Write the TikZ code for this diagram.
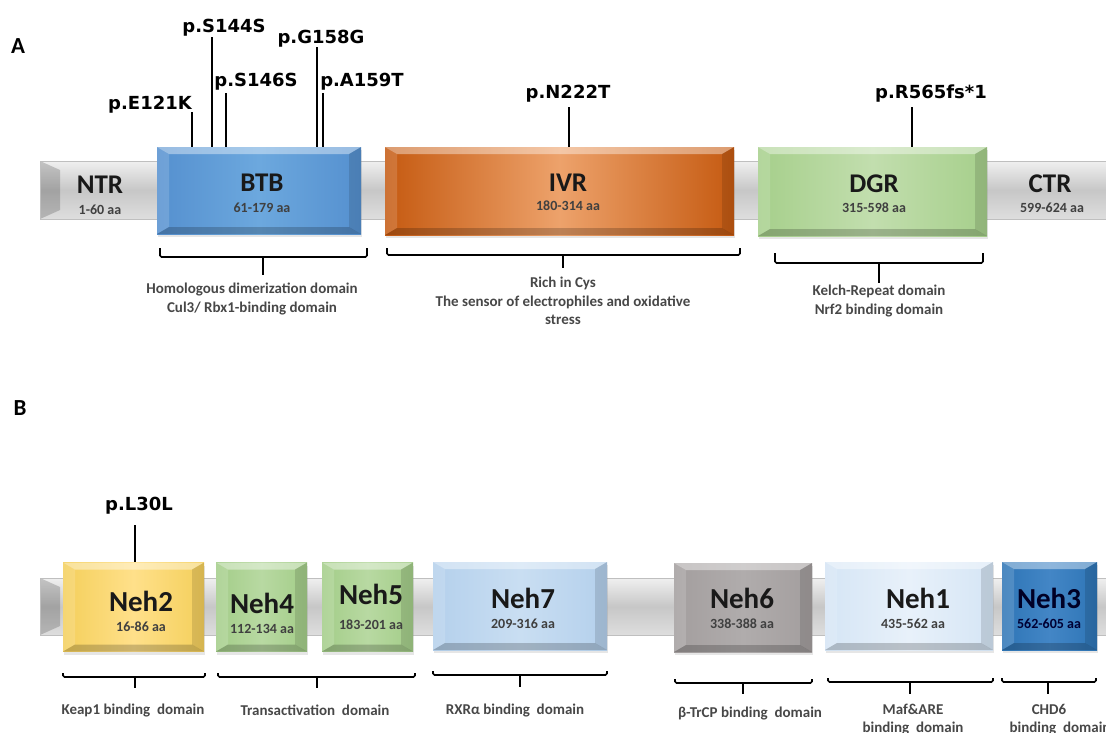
\documentclass[tikz,border=0pt]{standalone}
\usepackage{fontspec}
\setmainfont{Carlito}
\newfontfamily\mutfont{DejaVu Sans}
\usepackage{tikz}
\usetikzlibrary{positioning,shadows}

\definecolor{btbE}{HTML}{5590CF}\definecolor{btbM}{HTML}{6CA8DE}
\definecolor{ivrE}{HTML}{C55A11}\definecolor{ivrM}{HTML}{EDA26B}
\definecolor{dgrE}{HTML}{A6CF8B}\definecolor{dgrM}{HTML}{C2DEAE}
\definecolor{nehyE}{HTML}{F4CF5B}\definecolor{nehyM}{HTML}{FFE08A}
\definecolor{nehgE}{HTML}{A3CD88}\definecolor{nehgM}{HTML}{B8D9A2}
\definecolor{nehlE}{HTML}{B4D0EC}\definecolor{nehlM}{HTML}{C9DEF2}
\definecolor{nehdE}{HTML}{A39E9E}\definecolor{nehdM}{HTML}{B0ACAC}
\definecolor{nehpE}{HTML}{D5E5F5}\definecolor{nehpM}{HTML}{E8F1FA}
\definecolor{nehbE}{HTML}{2E75B6}\definecolor{nehbM}{HTML}{4386C6}

\tikzset{
	bevel/.style={rectangle, inner sep=0pt,
		drop shadow={opacity=0.2, shadow xshift=1pt, shadow yshift=-3pt},
		path picture={
			\fill[white, opacity=0.4] (path picture bounding box.north west) -- (path picture bounding box.north east) -- ([shift={(-12pt,-7pt)}]path picture bounding box.north east) -- ([shift={(12pt,-7pt)}]path picture bounding box.north west) -- cycle;
			\fill[white, opacity=0.15] (path picture bounding box.north west) -- ([shift={(12pt,-7pt)}]path picture bounding box.north west) -- ([shift={(12pt,7pt)}]path picture bounding box.south west) -- (path picture bounding box.south west) -- cycle;
			\fill[black, opacity=0.12] (path picture bounding box.north east) -- ([shift={(-12pt,-7pt)}]path picture bounding box.north east) -- ([shift={(-12pt,7pt)}]path picture bounding box.south east) -- (path picture bounding box.south east) -- cycle;
			\fill[black, opacity=0.2] (path picture bounding box.south west) -- ([shift={(12pt,7pt)}]path picture bounding box.south west) -- ([shift={(-12pt,7pt)}]path picture bounding box.south east) -- (path picture bounding box.south east) -- cycle;
		}},
	backbone/.style={rectangle, inner sep=0pt, draw=black!25, line width=0.6pt, top color=black!6, bottom color=black!13, middle color=black!22,
		path picture={
			\fill[black, opacity=0.18] (path picture bounding box.north west) -- ([shift={(20pt,-9pt)}]path picture bounding box.north west) -- ([shift={(20pt,9pt)}]path picture bounding box.south west) -- (path picture bounding box.south west) -- cycle;
		}},
	dname/.style={font=\fontsize{27}{30}\selectfont\bfseries, text=black!90, anchor=base, inner sep=0pt},
	nname/.style={font=\fontsize{29}{32}\selectfont\bfseries, text=black!90, anchor=base, inner sep=0pt},
	aa/.style={font=\fontsize{14}{16}\selectfont\bfseries, text=black!75, anchor=base, inner sep=0pt},
	mut/.style={font=\mutfont\fontsize{18}{20}\selectfont\bfseries, anchor=base, inner sep=0pt},
	mline/.style={line width=1.6pt},
	brk/.style={line width=1.6pt, rounded corners=1.5pt},
	btext/.style={font=\fontsize{15}{18.5}\selectfont\bfseries, text=black!72, align=center, inner sep=0pt},
	panel/.style={font=\fontsize{23}{26}\selectfont\bfseries, anchor=base, inner sep=0pt},
}

\begin{document}
\begin{tikzpicture}[x=1pt, y=-1pt]
	\useasboundingbox (0,0) rectangle (1106,732);
	\clip (0,0) rectangle (1106,732);
	% panel A
	\node[panel] (panA) at (18,53) {A};
	\node[backbone, minimum width=1110pt, minimum height=58pt] at (595,190)(barA){};
	\node[bevel, minimum width=204pt, minimum height=87pt, left color=btbE, right color=btbE, middle color=btbM] at (259,190.5)(btb){};
	\node[bevel, minimum width=349pt, minimum height=88pt, left color=ivrE, right color=ivrE, middle color=ivrM] at (559.5,191)(ivr){};
	\node[bevel, minimum width=229pt, minimum height=89pt, left color=dgrE, right color=dgrE, middle color=dgrM] at (872.5,191.5)(dgr){};
	\node[dname] at (100,193)(ntr){NTR};
	\node[aa] at (100,214)(ntraa){1-60 aa};
	\node[dname] at (262,191)(btbname){BTB};
	\node[aa] at (262,212)(btbaa){61-179 aa};
	\node[dname] at (568,191)(ivrname){IVR};
	\node[aa] at (568,210)(ivraa){180-314 aa};
	\node[dname] at (874,192)(dgrname){DGR};
	\node[aa] at (874,212)(dgraa){315-598 aa};
	\node[dname] at (1050,192)(ctr){CTR};
	\node[aa] at (1052,212)(ctraa){599-624 aa};
	% mutations on Keap1
	\node[mut] at (150,109)(mE121K){p.E121K};
	\node[mut] at (224,32)(mS144S){p.S144S};
	\node[mut] at (256,86)(mS146S){p.S146S};
	\node[mut] at (321,43)(mG158G){p.G158G};
	\node[mut] at (362,86)(mA159T){p.A159T};
	\node[mut] at (568,98)(mN222T){p.N222T};
	\node[mut] at (931,98)(mR565){p.R565fs*1};
	\coordinate (tE121K) at (192,112);
	\coordinate (tS144S) at (212,37);
	\coordinate (tS146S) at (226,93);
	\coordinate (tG158G) at (317,47);
	\coordinate (tA159T) at (323,93);
	\coordinate (tN222T) at (569,107);
	\coordinate (tR565) at (912,107);
	\draw[mline] (tE121K) -- (tE121K |- btb.north);
	\draw[mline] (tS144S) -- (tS144S |- btb.north);
	\draw[mline] (tS146S) -- (tS146S |- btb.north);
	\draw[mline] (tG158G) -- (tG158G |- btb.north);
	\draw[mline] (tA159T) -- (tA159T |- btb.north);
	\draw[mline] (tN222T) -- (tN222T |- ivr.north);
	\draw[mline] (tR565) -- (tR565 |- dgr.north);
	% brackets A
	\node[btext] at (252,299)(btbtext){Homologous dimerization domain\\Cul3/ Rbx1-binding domain};
	\node[btext] at (563,301)(ivrtext){Rich in Cys\\The sensor of electrophiles and oxidative\\stress};
	\node[btext] at (879,301)(dgrtext){Kelch-Repeat domain\\Nrf2 binding domain};
	\coordinate (kbtb) at (263,257);
	\coordinate (kivr) at (563,255);
	\coordinate (kdgr) at (879,263);
	\draw[brk] (160,248) -- (160,257) -- (367,257) -- (367,248);
	\draw[brk] (387,248) -- (387,255) -- (740,255) -- (740,248);
	\draw[brk] (775,253) -- (775,263) -- (983,263) -- (983,253);
	\draw[mline] (kbtb) -- ++(0,18);
	\draw[mline] (kivr) -- ++(0,13);
	\draw[mline] (kdgr) -- ++(0,20);
	% panel B
	\node[panel] (panB) at (20,415) {B};
	\node[backbone, minimum width=1110pt, minimum height=57pt] at (595,606.5)(barB){};
	\node[bevel, minimum width=141pt, minimum height=89pt, left color=nehyE, right color=nehyE, middle color=nehyM] at (133.5,607)(neh2){};
	\node[bevel, minimum width=91pt, minimum height=89pt, left color=nehgE, right color=nehgE, middle color=nehgM] at (261.5,607)(neh4){};
	\node[bevel, minimum width=91pt, minimum height=89pt, left color=nehgE, right color=nehgE, middle color=nehgM] at (367.5,607)(neh5){};
	\node[bevel, minimum width=174pt, minimum height=88pt, left color=nehlE, right color=nehlE, middle color=nehlM] at (520,606)(neh7){};
	\node[bevel, minimum width=138pt, minimum height=89pt, left color=nehdE, right color=nehdE, middle color=nehdM] at (743,607.5)(neh6){};
	\node[bevel, minimum width=168pt, minimum height=88pt, left color=nehpE, right color=nehpE, middle color=nehpM] at (909,606)(neh1){};
	\node[bevel, minimum width=95pt, minimum height=88pt, left color=nehbE, right color=nehbE, middle color=nehbM] at (1049.5,606)(neh3){};
	\node[nname] at (141,611)(neh2name){Neh2};
	\node[aa] at (141,631)(neh2aa){16-86 aa};
	\node[nname] at (262,613)(neh4name){Neh4};
	\node[aa] at (262,633)(neh4aa){112-134 aa};
	\node[nname] at (371,604)(neh5name){Neh5};
	\node[aa] at (371,629)(neh5aa){183-201 aa};
	\node[nname] at (523,608)(neh7name){Neh7};
	\node[aa] at (523,628)(neh7aa){209-316 aa};
	\node[nname] at (742,608)(neh6name){Neh6};
	\node[aa] at (742,628)(neh6aa){338-388 aa};
	\node[nname] at (918,608)(neh1name){Neh1};
	\node[aa] at (913,628)(neh1aa){435-562 aa};
	\node[nname, text=black!85!blue] at (1049,608)(neh3name){Neh3};
	\node[aa, text=black!80!blue] at (1049,628)(neh3aa){562-605 aa};
	% mutation on Nrf2
	\node[mut] at (139,510)(mL30L){p.L30L};
	\coordinate (tL30L) at (135,525);
	\draw[mline] (tL30L) -- (tL30L |- neh2.north);
	% brackets B
	\node[btext] at (133,710)(neh2text){Keap1 binding\ \ domain};
	\node[btext] at (315,710)(neh45text){Transactivation\ \ domain};
	\node[btext] at (515,710)(neh7text){RXRα binding\ \ domain};
	\node[btext] at (750,713)(neh6text){β-TrCP binding\ \ domain};
	\node[btext] at (913,719.5)(neh1text){Maf\&ARE\\binding\ \ domain};
	\node[btext] at (1060,719.5)(neh3text){CHD6\hspace*{22pt}\\binding\ \ domain};
	\coordinate (kneh2) at (135,677);
	\coordinate (kneh45) at (317,677);
	\coordinate (kneh7) at (520,675);
	\coordinate (kneh6) at (743,683);
	\coordinate (kneh1) at (910,682);
	\coordinate (kneh3) at (1048,682);
	\draw[brk] (63,673) -- (63,677) -- (205,677) -- (205,673);
	\draw[brk] (218,673) -- (218,677) -- (415,677) -- (415,673);
	\draw[brk] (433,671) -- (433,675) -- (607,675) -- (607,671);
	\draw[brk] (675,679) -- (675,683) -- (812,683) -- (812,679);
	\draw[brk] (828,678) -- (828,682) -- (993,682) -- (993,678);
	\draw[brk] (1002,678) -- (1002,682) -- (1096,682) -- (1096,678);
	\draw[mline] (kneh2) -- ++(0,11);
	\draw[mline] (kneh45) -- ++(0,11);
	\draw[mline] (kneh7) -- ++(0,12);
	\draw[mline] (kneh6) -- ++(0,11);
	\draw[mline] (kneh1) -- ++(0,12);
	\draw[mline] (kneh3) -- ++(0,12);
\end{tikzpicture}
\end{document}
